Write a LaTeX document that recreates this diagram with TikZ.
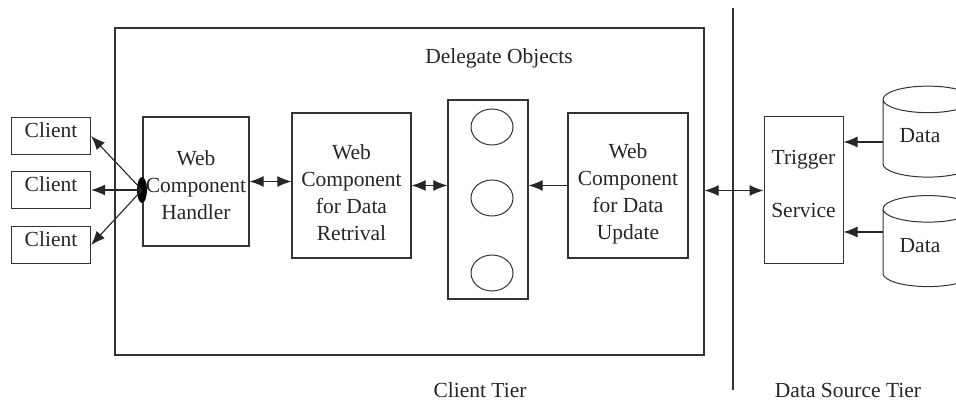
\documentclass[tikz,border=0pt]{standalone}
\usepackage{fontspec}
\setmainfont{Liberation Serif}
\usetikzlibrary{shapes.geometric,arrows.meta}
\newcommand{\lowr}[1]{\rule{0pt}{#1}}

\begin{document}
\begin{tikzpicture}[x=1pt,y=-1pt,
    every node/.style={font=\fontsize{21.5}{27}\selectfont,text=black!85},
    box/.style={draw=black!80,line width=1.2pt,align=center,inner sep=0pt},
    upper/.style={execute at end node={\rule[-#1]{0pt}{#1}}},
    link/.style={black!85,line width=1.1pt},
    >={Latex[length=14pt,width=11pt]}]
    \useasboundingbox (0,0) rectangle (956,403);
    %两个层
    \node[box,minimum width=589pt,minimum height=327pt](tier) at (409.5,191.5){};
    \draw[line width=1.2pt,black!80](733,8)--(733,390);
    %客户端
    \node[box,upper=12pt,minimum width=79pt,minimum height=37pt](c1) at (51,136){Client};
    \node[box,upper=12pt,minimum width=79pt,minimum height=37pt](c2) at (51,190){Client};
    \node[box,upper=12pt,minimum width=79pt,minimum height=37pt](c3) at (51,245){Client};
    %组件
    \node[box,minimum width=106pt,minimum height=129pt](handler) at (196,181.5){\lowr{23pt}Web\\Component\\Handler};
    \node[box,minimum width=119pt,minimum height=145pt](retr) at (351.5,185.5){\lowr{29pt}Web\\Component\\for Data\\Retrival};
    \node[box,minimum width=80pt,minimum height=199pt](obj) at (488,199.5){};
    \node[draw=black!80,line width=1pt,ellipse,minimum width=42pt,minimum height=36pt](o1) at (492,127){};
    \node[draw=black!80,line width=1pt,ellipse,minimum width=42pt,minimum height=36pt](o2) at (492,198){};
    \node[draw=black!80,line width=1pt,ellipse,minimum width=42pt,minimum height=36pt](o3) at (492,273){};
    \node[box,minimum width=120pt,minimum height=145pt](upd) at (628,185.5){\lowr{31pt}Web\\Component\\for Data\\Update};
    %数据源
    \node[box,upper=14pt,line width=1pt,minimum width=79pt,minimum height=147pt](trig) at (803.5,190.5){Trigger\\[26pt]Service};
    \node[draw=black!80,line width=1pt,cylinder,shape border rotate=90,aspect=0.85,
        minimum width=90pt,minimum height=91pt](d1) at (928,141){\hspace*{-16pt}\raisebox{11pt}{Data}};
    \node[draw=black!80,line width=1pt,cylinder,shape border rotate=90,aspect=0.85,
        minimum width=90pt,minimum height=91pt](d2) at (928,250.5){\hspace*{-16pt}\raisebox{11pt}{Data}};
    %连接
    \node[fill=black,ellipse,inner sep=0pt,minimum width=10pt,minimum height=26pt](hub) at (142,190){};
    \draw[link,->](hub.center)--(c1.east);
    \draw[link,->](hub.center)--(c2.east);
    \draw[link,->](hub.center)--(c3.east);
    \draw[link,<->](handler.east)--(handler.east -| retr.west);
    \draw[link,<->](retr.east)--(retr.east -| obj.west);
    \draw[link,->](upd.west)--(upd.west -| obj.east);
    \draw[link,<->](tier.east |- trig.west)--(trig.west);
    \coordinate (a1) at ([yshift=-1pt]d1.west);
    \coordinate (a2) at ([yshift=18.5pt]d2.west);
    \draw[link,->](a1)--(a1 -| trig.east);
    \draw[link,->](a2)--(a2 -| trig.east);
    %标签
    \node(deleg) at (499,58){Delegate Objects};
    \node(ctier) at (480,390){Client Tier};
    \node(dtier) at (848,390){Data Source Tier};
\end{tikzpicture}
\end{document}
